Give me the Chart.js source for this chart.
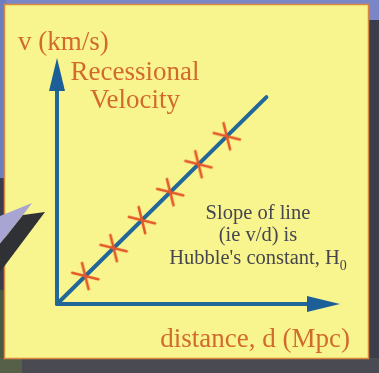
<!DOCTYPE html>
<html>
<head>
<meta charset="utf-8">
<script src="https://cdn.jsdelivr.net/npm/chart.js@4/dist/chart.umd.min.js"></script>
<style>
  html, body { margin: 0; padding: 0; background: #3b3e4a; }
  #wrap { position: relative; width: 379px; height: 373px; overflow: hidden; }
  #wrap svg, #wrap canvas { position: absolute; left: 0; top: 0; }
  .lbl { position: absolute; white-space: nowrap; font-family: "Liberation Serif", "Times New Roman", serif; }
  .orange { color: #d2692d; font-size: 27px; line-height: 27px; }
  .dark { color: #45464f; font-size: 20.5px; line-height: 20.5px; text-align: center; width: 220px; }
  .dark sub { font-size: 14px; line-height: 0; vertical-align: -6px; }
</style>
</head>
<body>
<div id="wrap">
  <svg width="379" height="373" viewBox="0 0 379 373">
    <rect x="0" y="0" width="379" height="373" fill="#3b3e4a"/>
    <rect x="0" y="0" width="379" height="6" fill="#7b86c6"/>
    <rect x="0" y="0" width="6" height="178" fill="#6d7ec0"/>
    <rect x="366" y="0" width="13" height="20" fill="#7b86c6"/>
    <rect x="0" y="290" width="6" height="83" fill="#4a5a42"/>
    <rect x="0" y="358" width="379" height="15" fill="#4a4b52"/>
    <rect x="0" y="358" width="22" height="15" fill="#566049"/>
    <rect x="4.5" y="4.5" width="364" height="354" fill="#f9f58e" stroke="#d98a3e" stroke-width="1.5"/>
    <polygon points="0,216 32,203 23,215 0,244" fill="#a9a5d3"/>
    <polygon points="23,215 45,212 0,272 0,244" fill="#2f3134"/>
  </svg>
  <canvas id="c" width="379" height="373"></canvas>
  <div class="lbl orange" style="left:18px; top:28px;">v (km/s)</div>
  <div class="lbl orange" style="left:35px; top:58px; width:200px; text-align:center;">Recessional</div>
  <div class="lbl orange" style="left:35px; top:86px; width:200px; text-align:center;">Velocity</div>
  <div class="lbl orange" style="right:29px; top:325px;">distance, d (Mpc)</div>
  <div class="lbl dark" style="left:148px; top:202px;">Slope of line</div>
  <div class="lbl dark" style="left:148px; top:224px;">(ie v/d) is</div>
  <div class="lbl dark" style="left:148px; top:247px;">Hubble's constant, H<sub>0</sub></div>
</div>
<script>
// Measured galaxies: distance (Mpc units) and recessional velocity (km/s units)
const distance = [1, 2, 3, 4, 5, 6];
const velocity = [1, 2, 3, 4, 5, 6];

// Straight-line fit through the origin
const fitDistance = [0, 7.4];
const fitVelocity = [0, 7.4];

// Extent of the two axis arrows
const xAxisEnd = 10;
const yAxisEnd = 8.8;

const AXIS_BLUE = '#21679a';
const ARROW_BLUE = '#1c5f98';
const MARK_RED = '#e4582a';

// Cross marker whose two strokes straddle the fit line
function makeMarker() {
  const size = 32, c = document.createElement('canvas');
  c.width = size; c.height = size;
  const g = c.getContext('2d');
  g.strokeStyle = MARK_RED;
  g.lineWidth = 2.6;
  g.lineCap = 'round';
  const r = 13.5, cx = size / 2, cy = size / 2;
  [14, 76].forEach(deg => {
    const a = deg * Math.PI / 180;
    g.beginPath();
    g.moveTo(cx - Math.cos(a) * r, cy - Math.sin(a) * r);
    g.lineTo(cx + Math.cos(a) * r, cy + Math.sin(a) * r);
    g.stroke();
  });
  return c;
}

// Axes with arrowheads, placed through the chart's own scales
const arrowAxes = {
  id: 'arrowAxes',
  beforeDatasetsDraw(chart) {
    const { ctx, scales: { x, y } } = chart;
    const x0 = x.getPixelForValue(0), y0 = y.getPixelForValue(0);
    const xTip = x.getPixelForValue(xAxisEnd), yTip = y.getPixelForValue(yAxisEnd);
    const len = 33, half = 8;
    ctx.save();
    ctx.strokeStyle = AXIS_BLUE;
    ctx.lineWidth = 4;
    ctx.lineJoin = 'round';
    ctx.beginPath();
    ctx.moveTo(x0, yTip + len - 2);
    ctx.lineTo(x0, y0);
    ctx.lineTo(xTip - len + 2, y0);
    ctx.stroke();
    ctx.fillStyle = ARROW_BLUE;
    ctx.beginPath();
    ctx.moveTo(x0, yTip);
    ctx.lineTo(x0 + half, yTip + len);
    ctx.lineTo(x0 - half, yTip + len);
    ctx.closePath();
    ctx.fill();
    ctx.beginPath();
    ctx.moveTo(xTip, y0);
    ctx.lineTo(xTip - len, y0 - half);
    ctx.lineTo(xTip - len, y0 + half);
    ctx.closePath();
    ctx.fill();
    ctx.restore();
  }
};

const points = distance.map((d, i) => ({ x: d, y: velocity[i] }));
const fit = fitDistance.map((d, i) => ({ x: d, y: fitVelocity[i] }));

new Chart(document.getElementById('c'), {
  type: 'scatter',
  data: {
    datasets: [
      {
        label: 'Galaxies',
        data: points,
        pointStyle: makeMarker(),
        pointRadius: 13,
        showLine: false,
        clip: false
      },
      {
        label: 'Fit',
        data: fit,
        showLine: true,
        borderColor: AXIS_BLUE,
        borderWidth: 4,
        borderCapStyle: 'round',
        pointRadius: 0,
        clip: false
      }
    ]
  },
  options: {
    responsive: false,
    animation: false,
    devicePixelRatio: 1,
    layout: { padding: { left: 57, top: 58, right: 39, bottom: 69 } },
    scales: {
      x: { type: 'linear', min: 0, max: xAxisEnd, display: false },
      y: { type: 'linear', min: 0, max: yAxisEnd, display: false }
    },
    plugins: { legend: { display: false }, tooltip: { enabled: false } }
  },
  plugins: [arrowAxes]
});
</script>
</body>
</html>
